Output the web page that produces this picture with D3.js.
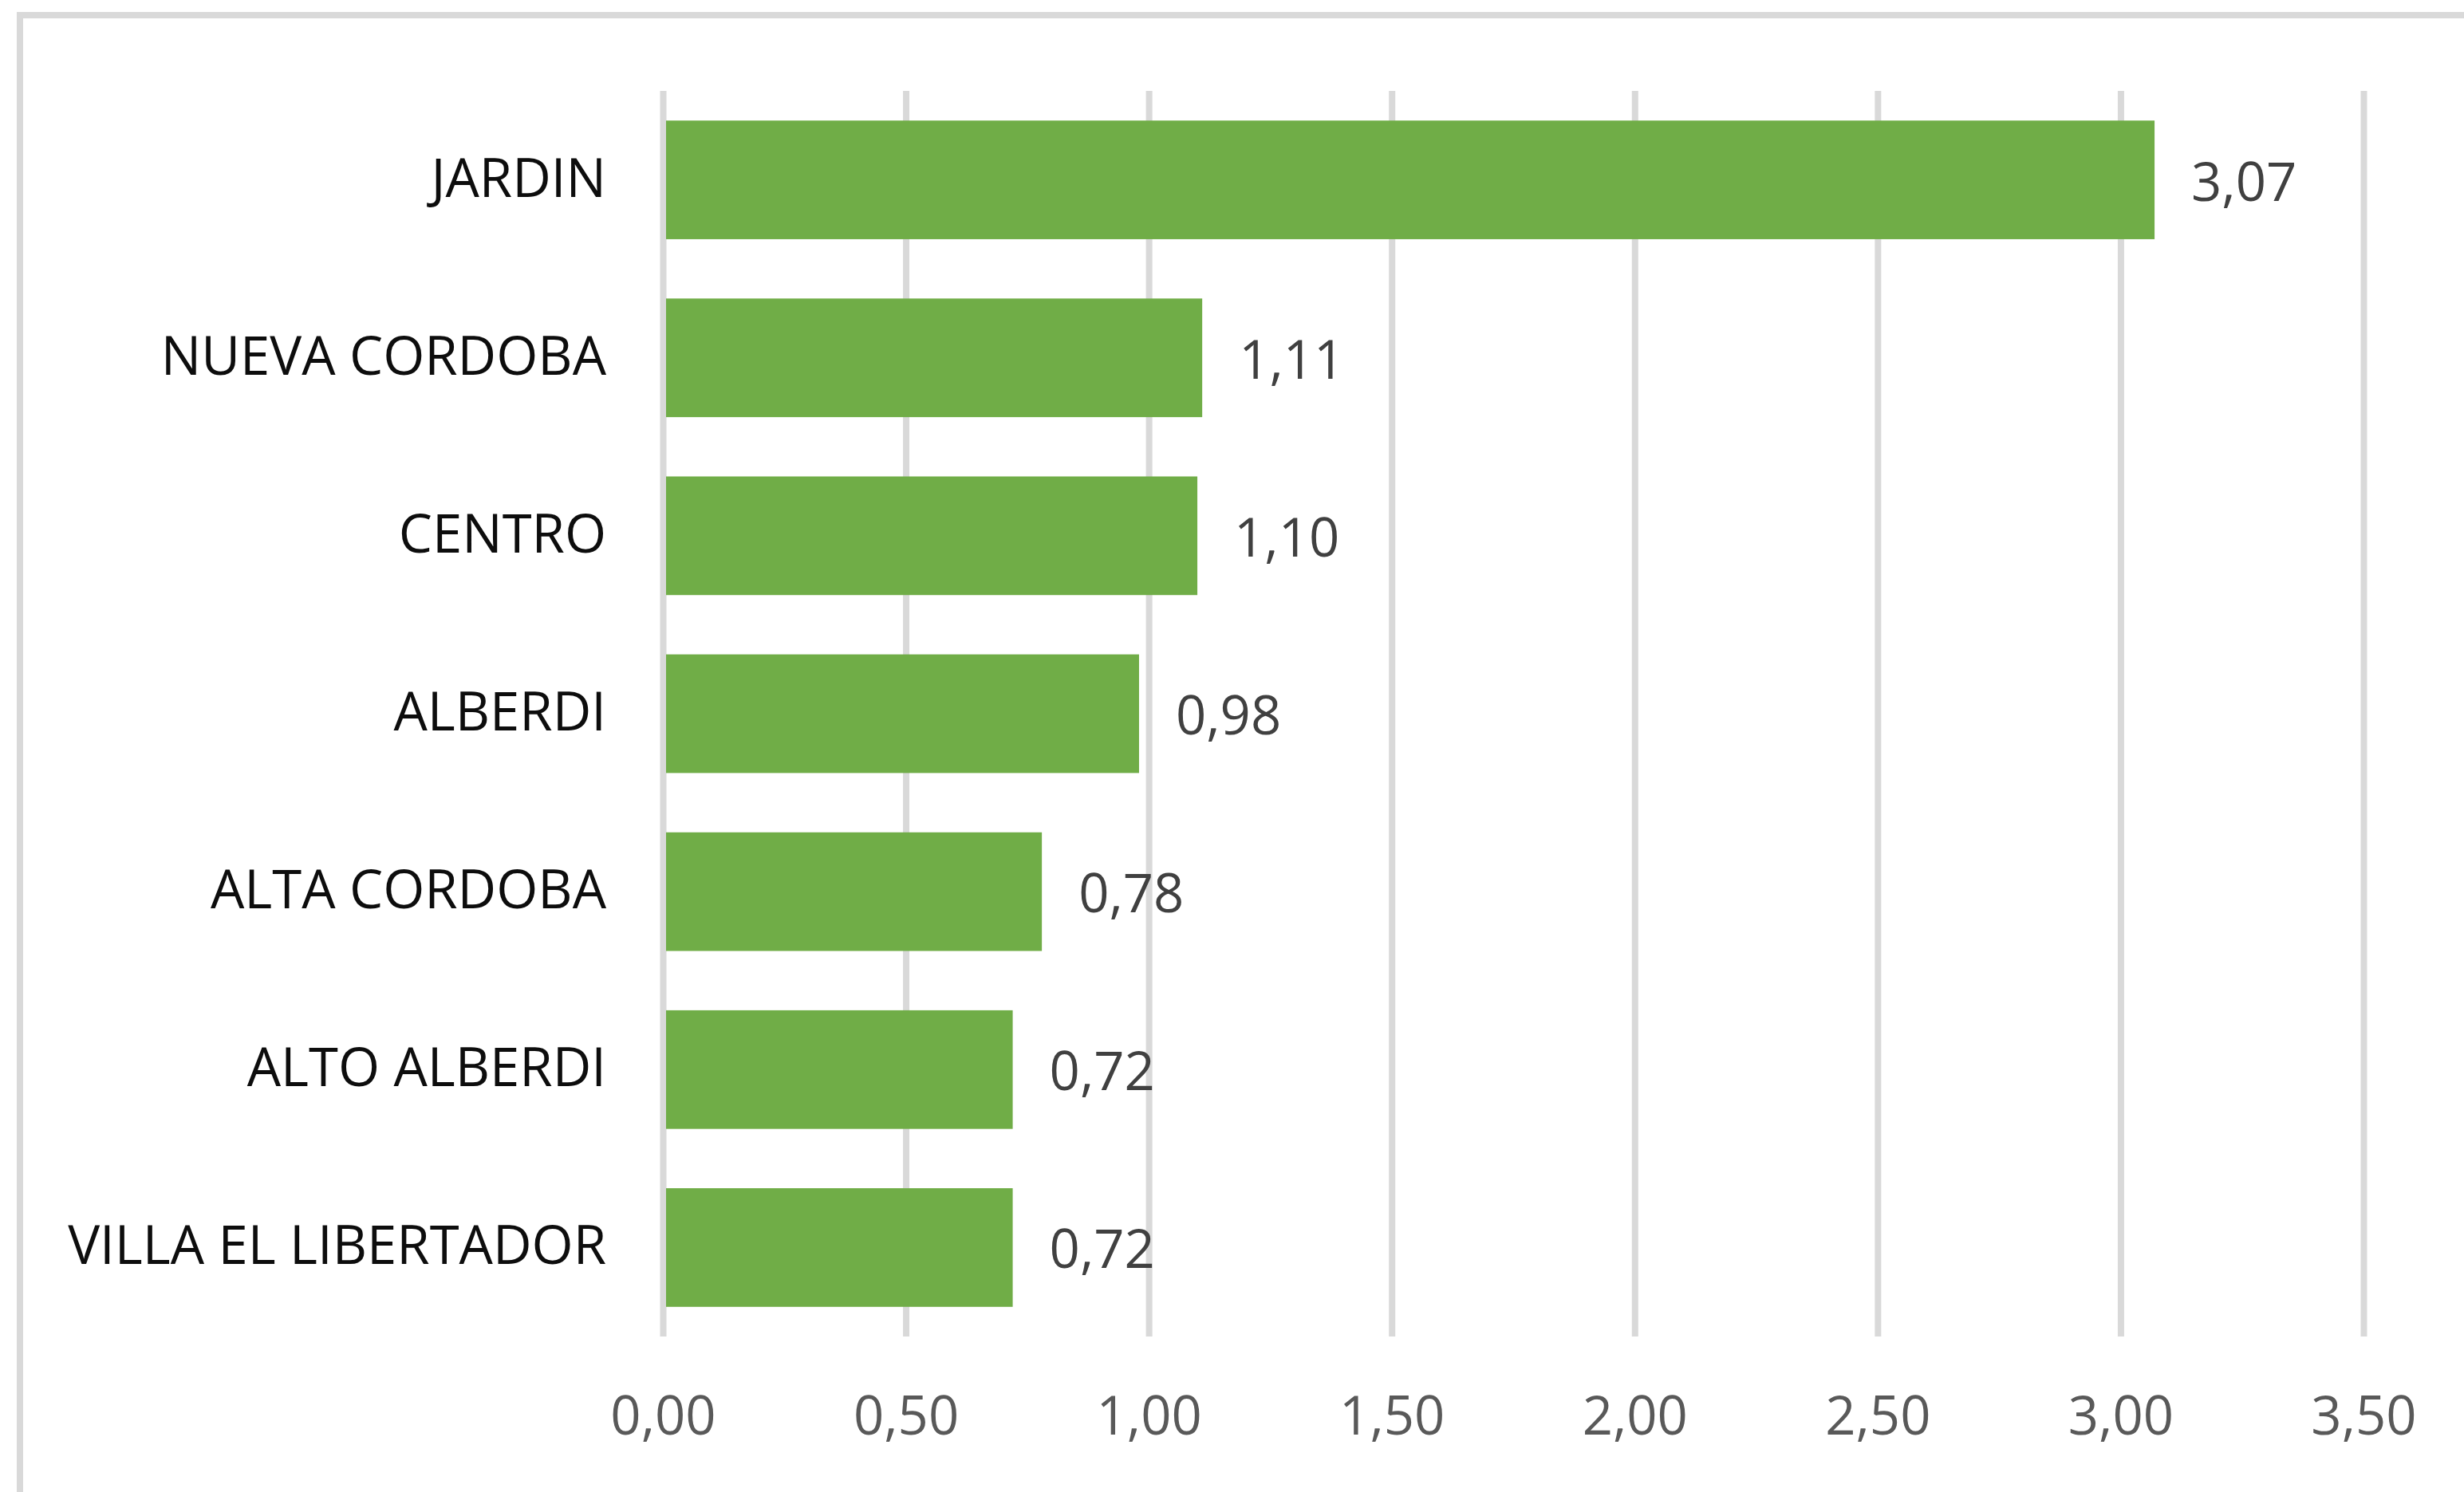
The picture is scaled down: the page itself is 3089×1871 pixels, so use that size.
<!DOCTYPE html>
<html>
<head>
<meta charset="utf-8">
<script src="https://cdn.jsdelivr.net/npm/d3@7"></script>
<style>
  html, body { margin: 0; padding: 0; background: #fff; }
  svg { display: block; }
</style>
</head>
<body>
<div id="chart"></div>
<script>
const barrios = [
  'JARDIN',
  'NUEVA CORDOBA',
  'CENTRO',
  'ALBERDI',
  'ALTA CORDOBA',
  'ALTO ALBERDI',
  'VILLA EL LIBERTADOR',
];
const valores = [3.07, 1.11, 1.1, 0.98, 0.78, 0.72, 0.72];
const ticks = [0, 0.5, 1, 1.5, 2, 2.5, 3, 3.5];

const width = 3089;
const height = 1871;
const fontFamily = '"Open Sans", "Noto Sans", sans-serif';
const fontSize = 67;
const fmt = (v) => d3.format('.2f')(v).replace('.', ',');

const svg = d3
  .select('#chart')
  .append('svg')
  .attr('width', width)
  .attr('height', height);

// chart area border (cropped on right and bottom)
svg
  .append('rect')
  .attr('x', 25)
  .attr('y', 19)
  .attr('width', width + 100)
  .attr('height', height + 100)
  .attr('fill', 'none')
  .attr('stroke', '#d9d9d9')
  .attr('stroke-width', 8);

const x = d3.scaleLinear().domain([0, 3.5]).range([831, 2963]);

const y = d3
  .scaleBand()
  .domain(barrios)
  .range([114, 1676])
  .paddingInner(1 / 3)
  .paddingOuter(1 / 6);

// vertical gridlines + tick labels via axis
const xAxis = svg
  .append('g')
  .attr('transform', `translate(0,${y.range()[1]})`)
  .call(
    d3
      .axisBottom(x)
      .tickValues(ticks)
      .tickSize(-(y.range()[1] - y.range()[0]))
      .tickPadding(0)
      .tickFormat(fmt),
  );

xAxis.select('.domain').remove();
xAxis
  .selectAll('.tick line')
  .attr('stroke', '#d9d9d9')
  .attr('stroke-width', 8);
xAxis
  .selectAll('.tick text')
  .attr('y', 123)
  .attr('dy', 0)
  .attr('fill', '#595959')
  .attr('font-family', fontFamily)
  .attr('font-size', fontSize);

const data = barrios.map((b, i) => ({ barrio: b, valor: valores[i] }));

// bars
svg
  .append('g')
  .selectAll('rect')
  .data(data)
  .enter()
  .append('rect')
  .attr('x', x(0) + 4)
  .attr('y', (d) => y(d.barrio))
  .attr('width', (d) => x(d.valor) - x(0) - 4)
  .attr('height', y.bandwidth())
  .attr('fill', '#70ad47');

// category labels
svg
  .append('g')
  .selectAll('text')
  .data(data)
  .enter()
  .append('text')
  .attr('x', 760)
  .attr('y', (d) => y(d.barrio) + y.bandwidth() / 2 + 21)
  .attr('text-anchor', 'end')
  .attr('fill', '#0d0d0d')
  .attr('font-family', fontFamily)
  .attr('font-size', fontSize)
  .text((d) => d.barrio);

// value labels
svg
  .append('g')
  .selectAll('text')
  .data(data)
  .enter()
  .append('text')
  .attr('x', (d) => x(d.valor) + 46)
  .attr('y', (d) => y(d.barrio) + y.bandwidth() / 2 + 26)
  .attr('fill', '#404040')
  .attr('font-family', fontFamily)
  .attr('font-size', fontSize)
  .text((d) => fmt(d.valor));
</script>
</body>
</html>
